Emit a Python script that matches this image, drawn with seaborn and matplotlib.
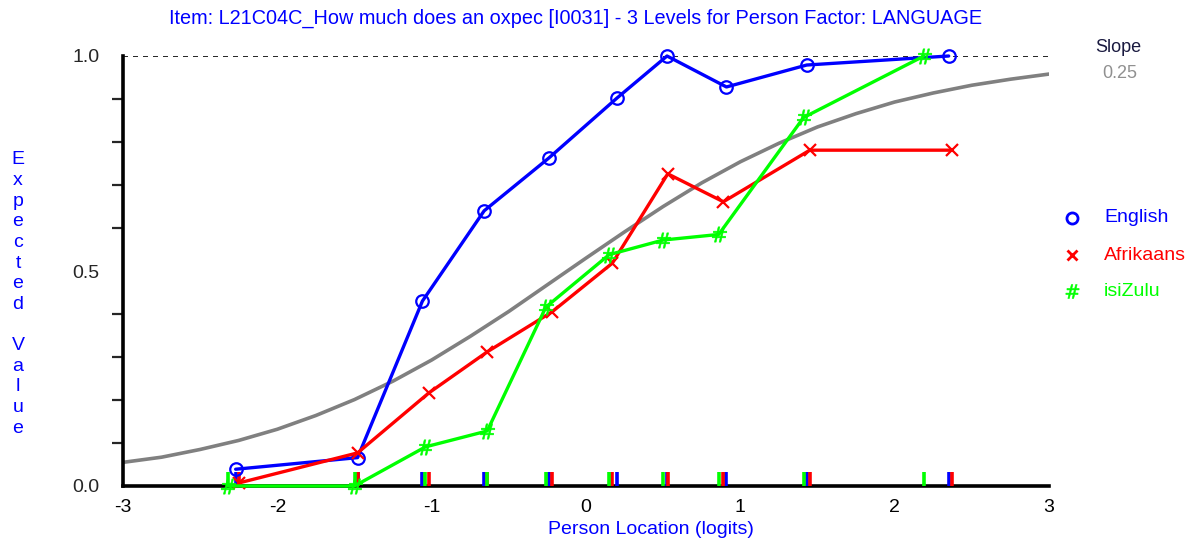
import matplotlib
matplotlib.use("Agg")
import matplotlib.pyplot as plt
from matplotlib.ticker import MultipleLocator, FormatStrFormatter
import pandas as pd
import seaborn as sns

english_x = [-2.27, -1.48, -1.06, -0.66, -0.24, 0.20, 0.525, 0.91, 1.43, 2.35]
english_y = [0.039, 0.066, 0.43, 0.64, 0.763, 0.902, 1.0, 0.928, 0.979, 1.0]
afrikaans_x = [-2.25, -1.48, -1.02, -0.64, -0.22, 0.17, 0.53, 0.89, 1.45, 2.37]
afrikaans_y = [0.007, 0.077, 0.216, 0.312, 0.405, 0.518, 0.726, 0.661, 0.781, 0.781]
isizulu_x = [-2.32, -1.50, -1.04, -0.64, -0.26, 0.15, 0.50, 0.86, 1.41, 2.19]
isizulu_y = [0.0, 0.0, 0.091, 0.128, 0.416, 0.538, 0.572, 0.585, 0.857, 1.0]

# expected value curve (grey), read at 0.25 logit steps
icc_x = [-3.0, -2.75, -2.5, -2.25, -2.0, -1.75, -1.5, -1.25, -1.0, -0.75, -0.5, -0.25,
         0.0, 0.25, 0.5, 0.75, 1.0, 1.25, 1.5, 1.75, 2.0, 2.25, 2.5, 2.75, 3.0]
icc_y = [0.055, 0.067, 0.085, 0.106, 0.132, 0.164, 0.201, 0.244, 0.293, 0.348, 0.406, 0.468,
         0.530, 0.591, 0.650, 0.705, 0.754, 0.797, 0.835, 0.866, 0.893, 0.914, 0.932, 0.946, 0.958]

groups = ["English", "Afrikaans", "isiZulu"]
colors = {"English": "#0000ff", "Afrikaans": "#ff0000", "isiZulu": "#00ff00"}
markers = {"English": "o", "Afrikaans": "x", "isiZulu": r"$\#$"}
msizes = {"English": 9, "Afrikaans": 8, "isiZulu": 11}
mews = {"English": 1.6, "Afrikaans": 1.6, "isiZulu": 0.4}

df = pd.concat([
    pd.DataFrame({"x": english_x, "y": english_y, "group": "English"}),
    pd.DataFrame({"x": afrikaans_x, "y": afrikaans_y, "group": "Afrikaans"}),
    pd.DataFrame({"x": isizulu_x, "y": isizulu_y, "group": "isiZulu"}),
])
icc = pd.DataFrame({"x": icc_x, "y": icc_y})

sns.set_style("white")
plt.rcParams['font.family'] = ['Liberation Sans', 'DejaVu Sans']
plt.rcParams['axes.unicode_minus'] = False

W, H = 1194, 544
fig = plt.figure(figsize=(W / 100, H / 100), dpi=100)
ax = fig.add_axes([123 / W, 1 - 486 / H, (1049 - 123) / W, (486 - 56) / H])

sns.lineplot(data=icc, x="x", y="y", color="#808080", lw=2.6, ax=ax, zorder=2)
ax.axhline(1.0, color="black", lw=1.2, ls=(0, (3, 3)), zorder=1)

for g in groups:
    d = df[df["group"] == g]
    sns.lineplot(data=d, x="x", y="y", color=colors[g], lw=2.4, marker=markers[g],
                 markersize=msizes[g], markerfacecolor="none" if g == "English" else colors[g],
                 markeredgecolor=colors[g], markeredgewidth=mews[g], ax=ax, zorder=4,
                 clip_on=False, sort=False)

# rug ticks at the class interval locations
for g in groups:
    d = df[df["group"] == g]
    ax.vlines(d["x"], 0, 0.033, colors=colors[g], lw=2.6, zorder=3, clip_on=False)

ax.set_xlim(-3, 3)
ax.set_ylim(0, 1)
ax.set_xlabel("")
ax.set_ylabel("")
ax.set_xticks([-3, -2, -1, 0, 1, 2, 3])
ax.set_yticks([0.0, 0.5, 1.0])
ax.yaxis.set_major_formatter(FormatStrFormatter("%.1f"))
ax.yaxis.set_minor_locator(MultipleLocator(0.1))
ax.tick_params(axis="x", direction="inout", length=10, width=1.6, labelsize=14, pad=4, colors="black")
ax.tick_params(axis="y", which="major", direction="out", length=14, width=1.6, labelsize=14, pad=3)
ax.tick_params(axis="y", which="minor", direction="out", length=8, width=1.6, left=True)

for s in ["top", "right"]:
    ax.spines[s].set_visible(False)
for s in ["left", "bottom"]:
    ax.spines[s].set_color("black")
    ax.spines[s].set_linewidth(2.6)

fig.text(576 / W, 1 - 18 / H,
         "Item: L21C04C_How much does an oxpec [I0031] - 3 Levels for Person Factor: LANGUAGE",
         color="#0000ff", fontsize=14.3, ha="center", va="center")
fig.text(651 / W, 1 - 530 / H, "Person Location (logits)", color="#0000ff",
         fontsize=14, ha="center", va="center")
fig.text(18 / W, 1 - 294 / H, "\n".join("Expected Value"), color="#0000ff",
         fontsize=14, ha="center", va="center", linespacing=1.28)

fig.text(1118 / W, 1 - 47 / H, "Slope", color="#1a1a40", fontsize=13, ha="center", va="center")
fig.text(1120 / W, 1 - 73 / H, "0.25", color="#909090", fontsize=13, ha="center", va="center")

leg_y = [218, 255, 291]
for g, yy in zip(groups, leg_y):
    fig.lines.append(plt.Line2D([1072 / W], [1 - yy / H], transform=fig.transFigure,
                                marker=markers[g], color=colors[g], ls="none",
                                markersize=msizes[g] - 1,
                                markerfacecolor="none" if g == "English" else colors[g],
                                markeredgewidth=2 if g != "isiZulu" else 0.4))
    fig.text(1104 / W, 1 - yy / H, g, color=colors[g], fontsize=14, ha="left", va="center")

fig.savefig("out.png", dpi=100)
